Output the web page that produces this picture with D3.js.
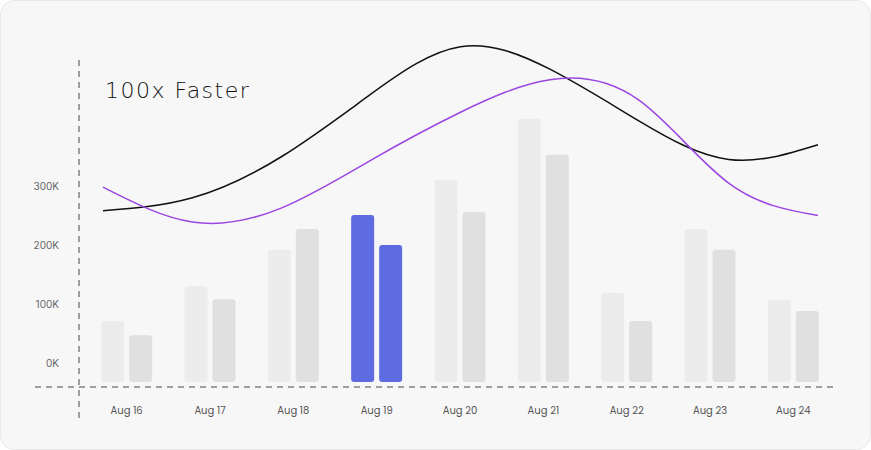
<!DOCTYPE html><html><head><script src="https://cdn.jsdelivr.net/npm/d3@7"></script>
<style>body{margin:0;background:#fff}</style></head><body><svg id="c" width="871" height="450"></svg>
<script>
const categories=["Aug 16","Aug 17","Aug 18","Aug 19","Aug 20","Aug 21","Aug 22","Aug 23","Aug 24"];
const seriesA=[71,130,192,251,310,414,119,227,107];
const seriesB=[47,108,227,200,256,353,71,192,88];
const lineBlack=[258,280,350,456,536,498,410,345,370];
const linePurple=[298,239,263,344,425,480,445,305,250];
const yTicks=[0,100,200,300];
const highlight="Aug 19";
const svg=d3.select("#c");
svg.append("rect").attr("x",0.5).attr("y",0.5).attr("width",870).attr("height",449).attr("rx",14).attr("fill","#f7f7f7").attr("stroke","#e8e8e8");
const y=d3.scaleLinear().domain([0,100]).range([363,304]);
const base=y(-32);
const x=d3.scaleBand().domain(categories).range([85,835]);
const xl=d3.scalePoint().domain(categories).range([103,818]);
const bw=23,gap=5;
categories.forEach((c,i)=>{
 const cx=x(c)+x.bandwidth()/2;
 const hl=c===highlight;
 svg.append("rect").attr("x",cx-gap/2-bw).attr("y",y(seriesA[i])).attr("width",bw).attr("height",base-y(seriesA[i])).attr("rx",3).attr("fill",hl?"#5f6be0":"#ececec");
 svg.append("rect").attr("x",cx+gap/2).attr("y",y(seriesB[i])).attr("width",bw).attr("height",base-y(seriesB[i])).attr("rx",3).attr("fill",hl?"#5f6be0":"#e0e0e0");
 svg.append("text").attr("x",cx).attr("y",414).attr("text-anchor","middle").attr("font-family","Poppins, Inter, sans-serif").attr("font-size",10).attr("fill","#555").text(c);
});
yTicks.forEach(t=>svg.append("text").attr("x",59).attr("y",y(t)+4).attr("text-anchor","end").attr("font-family","Inter, sans-serif").attr("font-size",10).attr("fill","#666").text(t+"K"));
const ln=d3.line().x((d,i)=>xl(categories[i])).y(d=>y(d)).curve(d3.curveNatural);
svg.append("path").attr("d",ln(lineBlack)).attr("fill","none").attr("stroke","#111").attr("stroke-width",1.5);
svg.append("path").attr("d",ln(linePurple)).attr("fill","none").attr("stroke","#9b45e0").attr("stroke-width",1.5);
svg.append("line").attr("x1",79).attr("x2",79).attr("y1",60).attr("y2",420).attr("stroke","#444").attr("stroke-dasharray","6,5");
svg.append("line").attr("x1",35).attr("x2",836).attr("y1",387).attr("y2",387).attr("stroke","#444").attr("stroke-dasharray","6,5");
svg.append("text").attr("x",105).attr("y",98).attr("font-family","'Comic Sans MS', 'DejaVu Sans', sans-serif").attr("font-weight",300).attr("letter-spacing",1.5).attr("font-size",22).attr("fill","#111").text("100x Faster");
</script></body></html>
